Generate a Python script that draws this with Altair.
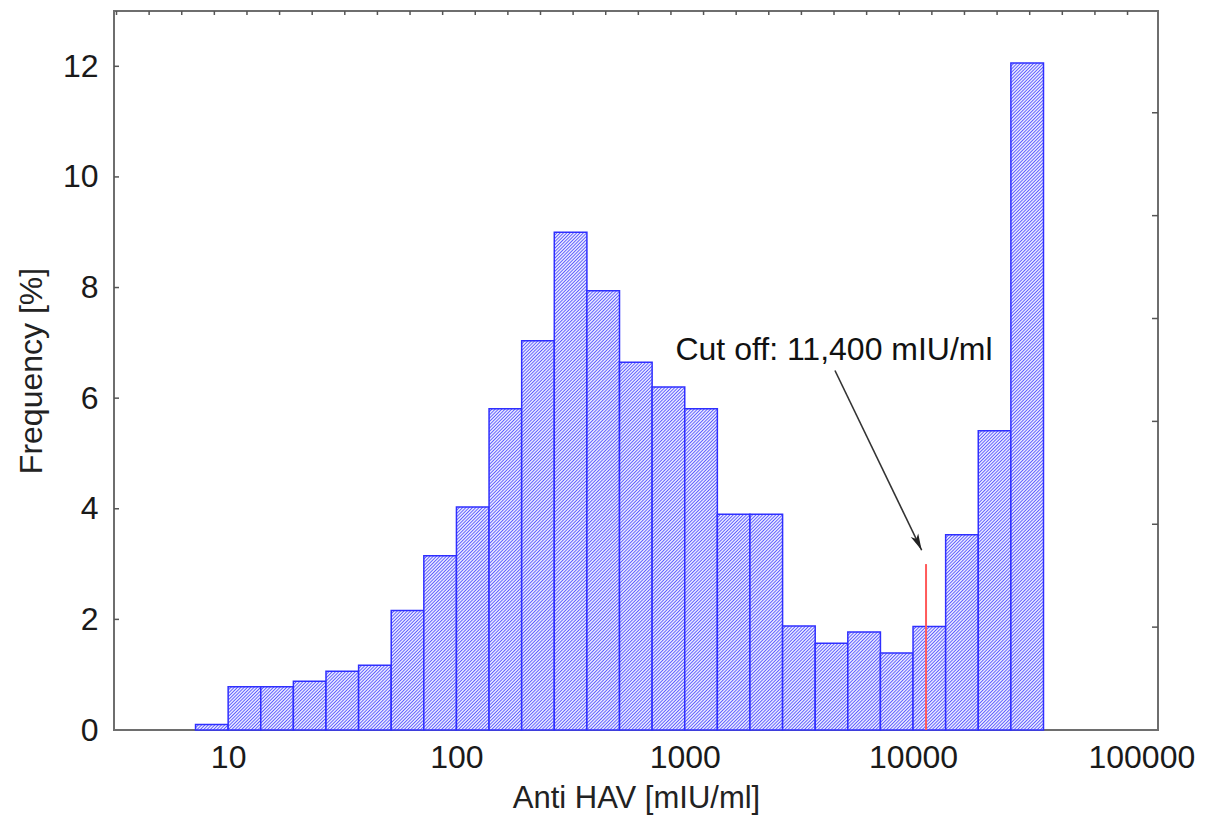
import altair as alt
import pandas as pd

# ---- data ----
bin_lo = [7.197, 10.0, 13.895, 19.307, 26.827, 37.276, 51.795, 71.969, 100.0,
          138.95, 193.07, 268.27, 372.76, 517.95, 719.69, 1000.0, 1389.5,
          1930.7, 2682.7, 3727.6, 5179.5, 7196.9, 10000.0, 13895.0, 19307.0,
          26827.0]
bin_hi = bin_lo[1:] + [37276.0]
frequency = [0.1, 0.78, 0.78, 0.88, 1.06, 1.17, 2.16, 3.15, 4.03, 5.81, 7.04,
             9.0, 7.94, 6.65, 6.2, 5.81, 3.9, 3.9, 1.88, 1.57, 1.77, 1.39,
             1.87, 3.53, 5.41, 12.06]

x_tick_labels = [10, 100, 1000, 10000, 100000]
y_tick_labels = [0, 2, 4, 6, 8, 10, 12]
right_ticks = [1.86, 3.72, 5.58, 7.44, 9.30, 11.16]
top_ticks = [10 ** (0.511 + k / 7) for k in range(32)]

cutoff = 11400
cutoff_top = 3.0
note_text = "Cut off: 11,400 mIU/ml"
note_x, note_y = 4508, 6.69
arrow_x0, arrow_y0 = 4550, 6.50
arrow_x1, arrow_y1 = 10910, 3.25

XTITLE = "Anti HAV [mIU/ml]"
YTITLE = "Frequency [%]"

W, H = 1044, 719
Y_MAX = 13
FONT = "Liberation Sans"
HATCH_DARK = "#5c5cff"
HATCH_LIGHT = "#e8e8ff"
HATCH_PERIOD = 3.3  # px, measured along x + y
BAR_W = W / 4.5727 / 7  # pixel width of one 1/7-decade bin

xscale = alt.Scale(type="log", domain=[3.1623, 118300], nice=False)
yscale = alt.Scale(domain=[0, Y_MAX], nice=False)


def X(field):
    return alt.X(field, scale=xscale, title=XTITLE)


def Y(field):
    return alt.Y(field, scale=yscale, title=YTITLE)


def hatch(value):
    """Diagonal '/' hatch as a linear gradient in bounding-box units."""
    w = BAR_W
    h = max(value * H / Y_MAX, 1.0)
    k = (w + h) / (w * w + h * h)
    span = w + h
    n = int(span / HATCH_PERIOD) + 1
    stops = []
    for j in range(n + 1):
        for frac, col in ((0.0, HATCH_DARK), (0.38, HATCH_LIGHT),
                          (0.62, HATCH_LIGHT)):
            off = (j + frac) * HATCH_PERIOD / span
            if off <= 1:
                stops.append(alt.GradientStop(offset=round(off, 5), color=col))
    return alt.LinearGradient(gradient="linear", x1=0, y1=0,
                              x2=k * w, y2=k * h, stops=stops)


x_axis = alt.Axis(
    values=x_tick_labels, format="d", ticks=False, domain=False, grid=False,
    labelFontSize=32, labelFont=FONT, labelColor="#1a1a1a", labelPadding=12,
    titleFontSize=31, titleFont=FONT, titleFontWeight="normal",
    titleColor="#222", titleY=77, titleBaseline="alphabetic")
y_axis = alt.Axis(
    values=y_tick_labels, ticks=False, domain=False, grid=False,
    labelFontSize=32, labelFont=FONT, labelColor="#1a1a1a", labelPadding=16,
    titleFontSize=32, titleFont=FONT, titleFontWeight="normal",
    titleColor="#222", titleAngle=-90, titleX=-73, titleY=H / 2,
    titleBaseline="alphabetic", titleAlign="center")

bar_layers = []
for i in range(len(frequency)):
    df = pd.DataFrame({"lo": [bin_lo[i]], "hi": [bin_hi[i]],
                       "freq": [frequency[i]]})
    enc = dict(x2="hi:Q", y2=alt.datum(0))
    if i == 0:
        enc["x"] = alt.X("lo:Q", scale=xscale, title=XTITLE, axis=x_axis)
        enc["y"] = alt.Y("freq:Q", scale=yscale, title=YTITLE, axis=y_axis)
    else:
        enc["x"] = X("lo:Q")
        enc["y"] = Y("freq:Q")
    bar_layers.append(
        alt.Chart(df).mark_rect(
            fill=hatch(frequency[i]), stroke="#2f2fff", strokeWidth=1.5
        ).encode(**enc)
    )

cut_df = pd.DataFrame({"x": [cutoff], "y": [cutoff_top]})
cut = alt.Chart(cut_df).mark_rule(color="#ff5a5a", strokeWidth=2).encode(
    x=X("x:Q"), y=Y("y:Q"), y2=alt.datum(0),
)

arrow_df = pd.DataFrame({"x": [arrow_x0], "y": [arrow_y0],
                         "x2": [arrow_x1], "y2": [arrow_y1]})
arrow_line = alt.Chart(arrow_df).mark_rule(color="#333333", strokeWidth=1.6).encode(
    x=X("x:Q"), y=Y("y:Q"), x2="x2:Q", y2="y2:Q",
)
head_df = pd.DataFrame({"x": [arrow_x1], "y": [arrow_y1]})
arrow_head = alt.Chart(head_df).mark_point(
    shape="M0,0L-0.45,1.8L0,1.35L0.45,1.8Z", size=340, filled=True,
    color="#222222", opacity=1, angle=154.3
).encode(x=X("x:Q"), y=Y("y:Q"))

note_df = pd.DataFrame({"x": [note_x], "y": [note_y], "t": [note_text]})
note = alt.Chart(note_df).mark_text(
    font=FONT, fontSize=32, color="#111111", align="center",
    baseline="alphabetic"
).encode(x=X("x:Q"), y=Y("y:Q"), text="t:N")

left_df = pd.DataFrame({"y": y_tick_labels[1:]})
left_ticks = alt.Chart(left_df).mark_rule(color="#555555", strokeWidth=1.5).encode(
    y=Y("y:Q"), x=alt.value(0), x2=alt.value(5),
)
right_df = pd.DataFrame({"y": right_ticks})
right_t = alt.Chart(right_df).mark_rule(color="#555555", strokeWidth=1.5).encode(
    y=Y("y:Q"), x=alt.value(W - 6), x2=alt.value(W),
)
top_df = pd.DataFrame({"x": top_ticks})
top_t = alt.Chart(top_df).mark_rule(color="#555555", strokeWidth=1.5).encode(
    x=X("x:Q"), y=alt.value(0), y2=alt.value(4),
)

chart = alt.layer(
    *bar_layers, cut, arrow_line, arrow_head, note, left_ticks, right_t, top_t
).properties(
    width=W, height=H,
    background="white",
    autosize=alt.AutoSizeParams(type="none"),
    padding={"left": 106, "top": 3, "right": 40, "bottom": 85},
).configure_view(
    stroke="#6e6e6e", strokeWidth=2
)

chart.save("out.html", embed_options={"renderer": "svg", "actions": False})
